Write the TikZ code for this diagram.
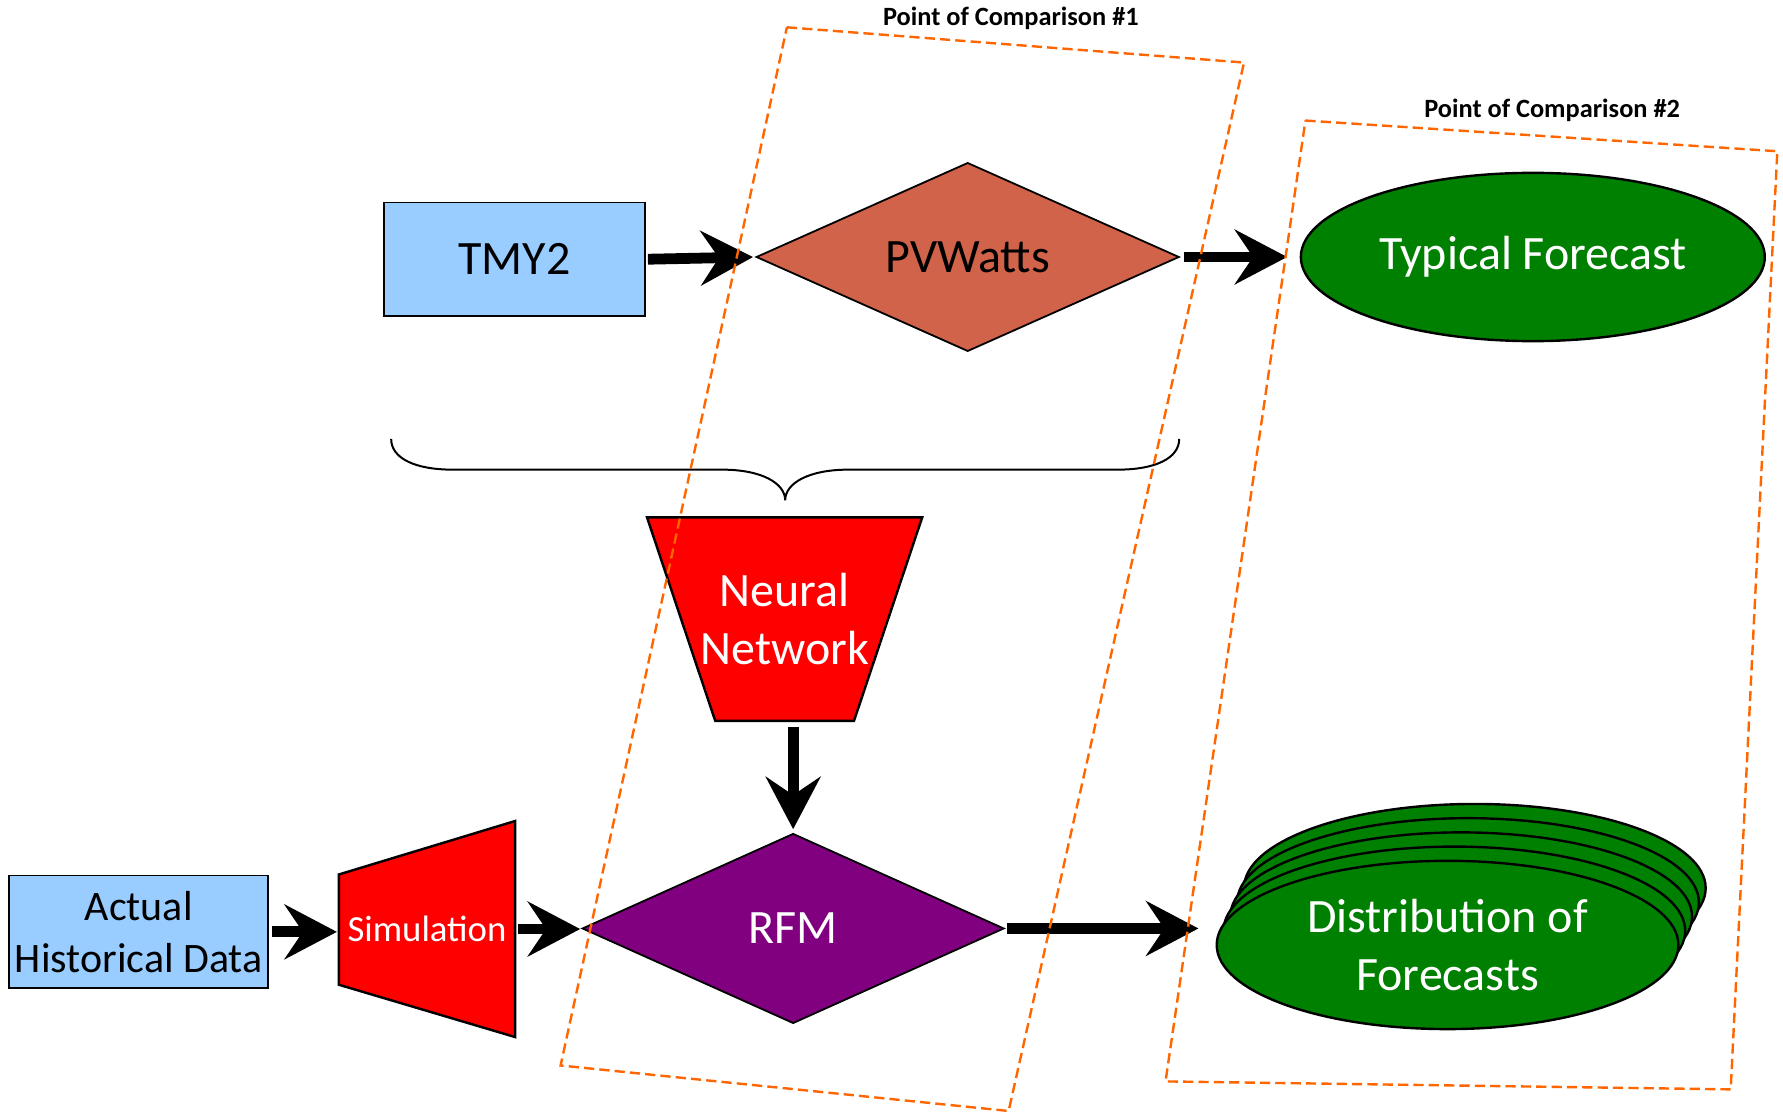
\documentclass[tikz,border=0pt]{standalone}
\usepackage{fontspec}
\setmainfont{Carlito}
\usetikzlibrary{shapes.geometric,arrows.meta,calc}
\definecolor{lblue}{RGB}{153,204,255}
\definecolor{pvc}{RGB}{209,99,74}
\definecolor{rfmc}{RGB}{128,0,128}
\definecolor{grn}{RGB}{0,128,0}
\definecolor{orng}{RGB}{255,102,0}
\tikzset{
 databox/.style={draw=black, line width=0.45pt, fill=lblue, inner sep=0pt, align=center},
 diam/.style={diamond, draw=black, line width=0.45pt, inner sep=0pt, aspect=2.2},
 ell/.style={ellipse, draw=black, line width=0.6pt, fill=grn, inner sep=0pt, text=white, align=center},
 trap/.style={draw=black, line width=0.6pt, fill=red},
 ghost/.style={inner sep=0pt, text=white, align=center},
 bigarrow/.style={line width=2.7pt, -{Stealth[length=4.6mm,width=4.8mm,inset=1.6mm]}},
 cmpbox/.style={draw=orng, line width=0.6pt, dash pattern=on 0.9mm off 0.45mm},
 cmplabel/.style={font=\fontsize{6.6}{8}\selectfont\bfseries, inner sep=0pt},
 big/.style={font=\fontsize{12}{14.6}\selectfont},
}
\begin{document}
\begin{tikzpicture}[x=0.1mm,y=-0.1mm]
\useasboundingbox (0,0) rectangle (1568,980);

% top row
\node[databox, big, minimum width=22.9mm, minimum height=10mm] (tmy) at (452.5,228) {TMY2};
\node[diam, big, fill=pvc, minimum width=37.2mm, minimum height=16.6mm] (pv) at (851,226) {\raisebox{-0.6pt}{PVWatts}};
\node[ell, big, minimum width=40.8mm, minimum height=14.8mm] (typ) at (1348,226) {\raisebox{-1pt}{Typical Forecast}};

% brace
\draw[line width=0.5pt] (344,386) .. controls (344,403) and (365,413) .. (398,413) -- (635,413)
  .. controls (670,413) and (690.5,425) .. (690.5,440)
  .. controls (690.5,425) and (711,413) .. (746,413) -- (983,413)
  .. controls (1016,413) and (1037,403) .. (1037,386);

% neural network
\draw[trap] (569,455) -- (811,455) -- (751,634) -- (629,634) -- cycle;
\node[ghost, big, minimum width=24.2mm, minimum height=17.9mm] (nn) at (690,544.5) {Neural\\Network};

% bottom row
\node[databox, font=\fontsize{10.5}{13.1}\selectfont, minimum width=22.8mm, minimum height=9.9mm] (act) at (122,819.5) {Actual\\Historical Data};
\draw[trap] (298,769) -- (453,722) -- (453,912) -- (298,866) -- cycle;
\node[ghost, font=\fontsize{9.2}{11}\selectfont, minimum width=15.5mm, minimum height=19mm] (sim) at (375.5,817) {Simulation};
\node[diam, big, fill=rfmc, text=white, minimum width=37.1mm, minimum height=16.7mm] (rfm) at (697.5,816.5) {RFM};

\foreach \k in {4,3,2,1}{
  \node[ell, minimum width=40.6mm, minimum height=14.8mm] (dist\k) at ({1273+6*\k},{831-12.5*\k}) {};
}
\node[ell, big, minimum width=40.6mm, minimum height=14.8mm] (dist) at (1273,831) {Distribution of\\Forecasts};

% connectors
\draw[bigarrow, shorten <=0.2mm, shorten >=0.2mm] (tmy.east) -- (pv.west);
\draw[bigarrow, shorten <=0.3mm, shorten >=1.1mm] (pv.east) -- (typ.west);
\draw[bigarrow, shorten <=0.5mm, shorten >=0.3mm] (nn.south -| rfm.north) -- (rfm.north);
\draw[bigarrow, shorten <=0.2mm, shorten >=0.1mm] (act.east) -- (act.east -| sim.west);
\draw[bigarrow, shorten <=0.2mm, shorten >=0.1mm] (sim.east) -- (sim.east -| rfm.west);
\draw[bigarrow, shorten <=0.2mm, shorten >=1.5mm] (rfm.east) -- (rfm.east -| dist.west);

% comparison boxes
\draw[cmpbox] (692,24) -- (1094,55) -- (887,977) -- (493,937) -- cycle;
\draw[cmpbox] (1148,106) -- (1563,133) -- (1522,958) -- (1025,951) -- cycle;
\node[cmplabel] (lab1) at (889,16) {Point of Comparison \#1};
\node[cmplabel] (lab2) at (1365,97) {Point of Comparison \#2};
\end{tikzpicture}
\end{document}
